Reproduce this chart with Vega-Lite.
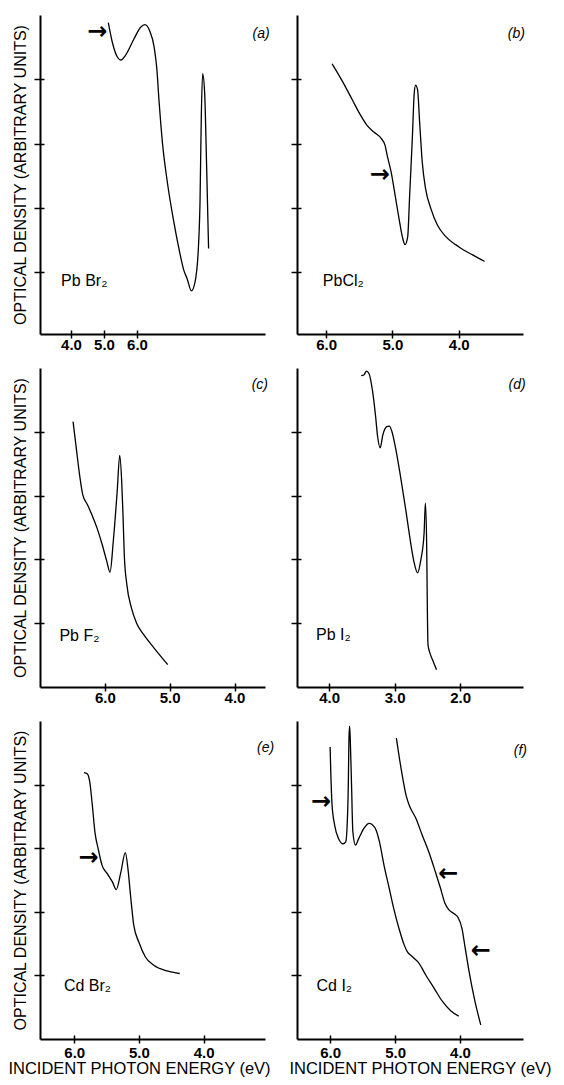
{
  "$schema": "https://vega.github.io/schema/vega-lite/v6.json",
  "background": "white",
  "padding": {"left": 7, "top": 15, "right": 5, "bottom": 5},
  "columns": 2,
  "spacing": {"row": 34, "column": 32},
  "bounds": "flush",
  "config": {
    "view": {"stroke": null},
    "axis": {"grid": false, "domainColor": "black", "tickColor": "black", "labelColor": "black", "titleColor": "black", "labelFont": "Liberation Sans", "titleFont": "Liberation Sans"},
    "text": {"font": "Liberation Sans", "color": "black"},
    "line": {"color": "black", "strokeWidth": 1.3, "interpolate": "monotone"}
  },
  "concat": [
    {
      "width": 225, "height": 319,
      "layer": [
        {
          "data": {"values": [
            {"e":5.13,"od":4.88},{"e":5.25,"od":4.58},{"e":5.40,"od":4.35},{"e":5.51,"od":4.30},{"e":5.66,"od":4.38},{"e":5.91,"od":4.63},{"e":6.11,"od":4.81},{"e":6.24,"od":4.85},{"e":6.38,"od":4.76},{"e":6.52,"od":4.50},{"e":6.60,"od":4.17},{"e":6.67,"od":3.65},{"e":6.77,"od":3.02},{"e":6.92,"od":2.40},{"e":7.10,"od":1.83},{"e":7.27,"od":1.37},{"e":7.42,"od":1.03},{"e":7.52,"od":0.90},{"e":7.65,"od":0.71},{"e":7.76,"od":0.85},{"e":7.86,"od":1.37},{"e":7.91,"od":2.09},{"e":7.95,"od":3.44},{"e":7.99,"od":4.09},{"e":8.05,"od":3.80},{"e":8.11,"od":2.66},{"e":8.17,"od":1.37}
          ]},
          "mark": {"type": "line"},
          "encoding": {
            "x": {"field": "e", "type": "quantitative", "scale": {"domain": [3.06, 9.88], "nice": false, "zero": false}, "axis": {"orient": "bottom", "values": [4, 5, 6], "format": ".1f", "ticks": false, "domainWidth": 2, "labelFontSize": 15, "labelFontWeight": "bold", "labelPadding": 3, "title": null}},
            "y": {"field": "od", "type": "quantitative", "scale": {"domain": [0.04, 5], "nice": false, "zero": false}, "axis": {"orient": "left", "ticks": false, "labels": false, "domainWidth": 2, "title": "OPTICAL DENSITY (ARBITRARY UNITS)", "titleFontSize": 16, "titleFontWeight": "normal", "titlePadding": 12}}
          }
        },
        {
          "data": {"values": [{"e": 9.76, "od": 4.70, "t": "(a)"}]},
          "mark": {"type": "text", "fontStyle": "italic", "fontSize": 14, "align": "center", "baseline": "middle"},
          "encoding": {
            "x": {"field": "e", "type": "quantitative", "scale": {"domain": [3.06, 9.88], "nice": false, "zero": false}, "axis": {"orient": "bottom", "values": [4, 5, 6], "domain": false, "labels": false, "tickSize": 8, "tickWidth": 1.5, "offset": -4, "title": null}},
            "y": {"field": "od", "type": "quantitative", "scale": {"domain": [0.04, 5], "nice": false, "zero": false}, "axis": {"orient": "left", "values": [1, 2, 3, 4], "domain": false, "labels": false, "tickSize": 10, "tickWidth": 1.5, "offset": -4, "title": null}},
            "text": {"field": "t"}
          }
        },
        {
          "data": {"values": [{"e": 3.70, "od": 0.86, "t": "Pb Br₂"}]},
          "mark": {"type": "text", "fontSize": 16, "align": "left", "baseline": "middle"},
          "encoding": {
            "x": {"field": "e", "type": "quantitative", "axis": null},
            "y": {"field": "od", "type": "quantitative", "axis": null},
            "text": {"field": "t"}
          }
        },
        {
          "data": {"values": [{"e": 4.80, "od": 4.73, "t": "→"}]},
          "mark": {"type": "text", "font": "DejaVu Sans", "fontSize": 24, "fontWeight": "bold", "align": "center", "baseline": "middle"},
          "encoding": {
            "x": {"field": "e", "type": "quantitative", "axis": null},
            "y": {"field": "od", "type": "quantitative", "axis": null},
            "text": {"field": "t"}
          }
        }
      ],
      "resolve": {"axis": {"x": "independent", "y": "independent"}}
    },
    {
      "width": 226, "height": 319,
      "layer": [
        {
          "data": {"values": [
            {"e":5.91,"od":4.24},{"e":5.75,"od":3.96},{"e":5.60,"od":3.67},{"e":5.48,"od":3.44},{"e":5.38,"od":3.28},{"e":5.28,"od":3.18},{"e":5.17,"od":3.08},{"e":5.11,"od":2.97},{"e":5.08,"od":2.82},{"e":5.02,"od":2.56},{"e":4.96,"od":2.20},{"e":4.90,"od":1.83},{"e":4.85,"od":1.55},{"e":4.81,"od":1.43},{"e":4.77,"od":1.55},{"e":4.74,"od":2.20},{"e":4.70,"od":3.08},{"e":4.67,"od":3.80},{"e":4.65,"od":3.91},{"e":4.62,"od":3.83},{"e":4.59,"od":3.34},{"e":4.55,"od":2.71},{"e":4.50,"od":2.30},{"e":4.42,"od":1.99},{"e":4.32,"od":1.73},{"e":4.19,"od":1.55},{"e":3.99,"od":1.39},{"e":3.79,"od":1.27},{"e":3.61,"od":1.17}
          ]},
          "mark": {"type": "line"},
          "encoding": {
            "x": {"field": "e", "type": "quantitative", "scale": {"domain": [3.03, 6.44], "reverse": true, "nice": false, "zero": false}, "axis": {"orient": "bottom", "values": [4, 5, 6], "format": ".1f", "ticks": false, "domainWidth": 2, "labelFontSize": 15, "labelFontWeight": "bold", "labelPadding": 3, "title": null}},
            "y": {"field": "od", "type": "quantitative", "scale": {"domain": [0.04, 5], "nice": false, "zero": false}, "axis": {"orient": "left", "ticks": false, "labels": false, "domainWidth": 2, "title": null}}
          }
        },
        {
          "data": {"values": [{"e": 3.13, "od": 4.70, "t": "(b)"}]},
          "mark": {"type": "text", "fontStyle": "italic", "fontSize": 14, "align": "center", "baseline": "middle"},
          "encoding": {
            "x": {"field": "e", "type": "quantitative", "scale": {"domain": [3.03, 6.44], "reverse": true, "nice": false, "zero": false}, "axis": {"orient": "bottom", "values": [4, 5, 6], "domain": false, "labels": false, "tickSize": 8, "tickWidth": 1.5, "offset": -4, "title": null}},
            "y": {"field": "od", "type": "quantitative", "scale": {"domain": [0.04, 5], "nice": false, "zero": false}, "axis": {"orient": "left", "values": [1, 2, 3, 4], "domain": false, "labels": false, "tickSize": 10, "tickWidth": 1.5, "offset": -4, "title": null}},
            "text": {"field": "t"}
          }
        },
        {
          "data": {"values": [{"e": 6.05, "od": 0.86, "t": "PbCl₂"}]},
          "mark": {"type": "text", "fontSize": 16, "align": "left", "baseline": "middle"},
          "encoding": {
            "x": {"field": "e", "type": "quantitative", "axis": null},
            "y": {"field": "od", "type": "quantitative", "axis": null},
            "text": {"field": "t"}
          }
        },
        {
          "data": {"values": [{"e": 5.19, "od": 2.52, "t": "→"}]},
          "mark": {"type": "text", "font": "DejaVu Sans", "fontSize": 24, "fontWeight": "bold", "align": "center", "baseline": "middle"},
          "encoding": {
            "x": {"field": "e", "type": "quantitative", "axis": null},
            "y": {"field": "od", "type": "quantitative", "axis": null},
            "text": {"field": "t"}
          }
        }
      ],
      "resolve": {"axis": {"x": "independent", "y": "independent"}}
    },
    {
      "width": 225, "height": 319,
      "layer": [
        {
          "data": {"values": [
            {"e":6.49,"od":4.16},{"e":6.44,"od":3.74},{"e":6.39,"od":3.33},{"e":6.34,"od":3.01},{"e":6.27,"od":2.86},{"e":6.20,"od":2.70},{"e":6.12,"od":2.49},{"e":6.04,"od":2.23},{"e":5.97,"od":1.97},{"e":5.92,"od":1.80},{"e":5.87,"od":2.28},{"e":5.81,"od":3.06},{"e":5.77,"od":3.63},{"e":5.74,"od":3.22},{"e":5.72,"od":2.70},{"e":5.70,"od":2.07},{"e":5.66,"od":1.60},{"e":5.59,"od":1.24},{"e":5.51,"od":1.00},{"e":5.40,"od":0.82},{"e":5.24,"od":0.61},{"e":5.03,"od":0.35}
          ]},
          "mark": {"type": "line"},
          "encoding": {
            "x": {"field": "e", "type": "quantitative", "scale": {"domain": [3.53, 7.0], "reverse": true, "nice": false, "zero": false}, "axis": {"orient": "bottom", "values": [4, 5, 6], "format": ".1f", "ticks": false, "domainWidth": 2, "labelFontSize": 15, "labelFontWeight": "bold", "labelPadding": 3, "title": null}},
            "y": {"field": "od", "type": "quantitative", "scale": {"domain": [0, 5], "nice": false, "zero": false}, "axis": {"orient": "left", "ticks": false, "labels": false, "domainWidth": 2, "title": "OPTICAL DENSITY (ARBITRARY UNITS)", "titleFontSize": 16, "titleFontWeight": "normal", "titlePadding": 12}}
          }
        },
        {
          "data": {"values": [{"e": 3.61, "od": 4.74, "t": "(c)"}]},
          "mark": {"type": "text", "fontStyle": "italic", "fontSize": 14, "align": "center", "baseline": "middle"},
          "encoding": {
            "x": {"field": "e", "type": "quantitative", "scale": {"domain": [3.53, 7.0], "reverse": true, "nice": false, "zero": false}, "axis": {"orient": "bottom", "values": [4, 5, 6], "domain": false, "labels": false, "tickSize": 8, "tickWidth": 1.5, "offset": -4, "title": null}},
            "y": {"field": "od", "type": "quantitative", "scale": {"domain": [0, 5], "nice": false, "zero": false}, "axis": {"orient": "left", "values": [1, 2, 3, 4], "domain": false, "labels": false, "tickSize": 10, "tickWidth": 1.5, "offset": -4, "title": null}},
            "text": {"field": "t"}
          }
        },
        {
          "data": {"values": [{"e": 6.70, "od": 0.80, "t": "Pb F₂"}]},
          "mark": {"type": "text", "fontSize": 16, "align": "left", "baseline": "middle"},
          "encoding": {
            "x": {"field": "e", "type": "quantitative", "axis": null},
            "y": {"field": "od", "type": "quantitative", "axis": null},
            "text": {"field": "t"}
          }
        }
      ],
      "resolve": {"axis": {"x": "independent", "y": "independent"}}
    },
    {
      "width": 226, "height": 319,
      "layer": [
        {
          "data": {"values": [
            {"e":3.51,"od":4.88},{"e":3.47,"od":4.89},{"e":3.43,"od":4.95},{"e":3.39,"od":4.91},{"e":3.34,"od":4.66},{"e":3.29,"od":4.24},{"e":3.26,"od":3.93},{"e":3.22,"od":3.75},{"e":3.18,"od":3.95},{"e":3.12,"od":4.08},{"e":3.08,"od":4.09},{"e":3.04,"od":4.00},{"e":2.99,"od":3.77},{"e":2.91,"od":3.30},{"e":2.83,"od":2.78},{"e":2.77,"od":2.36},{"e":2.71,"od":1.99},{"e":2.65,"od":1.79},{"e":2.60,"od":1.99},{"e":2.55,"od":2.41},{"e":2.53,"od":2.88},{"e":2.51,"od":2.20},{"e":2.50,"od":1.21},{"e":2.49,"od":0.66},{"e":2.46,"od":0.53},{"e":2.41,"od":0.40},{"e":2.36,"od":0.27}
          ]},
          "mark": {"type": "line"},
          "encoding": {
            "x": {"field": "e", "type": "quantitative", "scale": {"domain": [1.04, 4.49], "reverse": true, "nice": false, "zero": false}, "axis": {"orient": "bottom", "values": [2, 3, 4], "format": ".1f", "ticks": false, "domainWidth": 2, "labelFontSize": 15, "labelFontWeight": "bold", "labelPadding": 3, "title": null}},
            "y": {"field": "od", "type": "quantitative", "scale": {"domain": [0, 5], "nice": false, "zero": false}, "axis": {"orient": "left", "ticks": false, "labels": false, "domainWidth": 2, "title": null}}
          }
        },
        {
          "data": {"values": [{"e": 1.13, "od": 4.74, "t": "(d)"}]},
          "mark": {"type": "text", "fontStyle": "italic", "fontSize": 14, "align": "center", "baseline": "middle"},
          "encoding": {
            "x": {"field": "e", "type": "quantitative", "scale": {"domain": [1.04, 4.49], "reverse": true, "nice": false, "zero": false}, "axis": {"orient": "bottom", "values": [2, 3, 4], "domain": false, "labels": false, "tickSize": 8, "tickWidth": 1.5, "offset": -4, "title": null}},
            "y": {"field": "od", "type": "quantitative", "scale": {"domain": [0, 5], "nice": false, "zero": false}, "axis": {"orient": "left", "values": [1, 2, 3, 4], "domain": false, "labels": false, "tickSize": 10, "tickWidth": 1.5, "offset": -4, "title": null}},
            "text": {"field": "t"}
          }
        },
        {
          "data": {"values": [{"e": 4.20, "od": 0.82, "t": "Pb I₂"}]},
          "mark": {"type": "text", "fontSize": 16, "align": "left", "baseline": "middle"},
          "encoding": {
            "x": {"field": "e", "type": "quantitative", "axis": null},
            "y": {"field": "od", "type": "quantitative", "axis": null},
            "text": {"field": "t"}
          }
        }
      ],
      "resolve": {"axis": {"x": "independent", "y": "independent"}}
    },
    {
      "width": 225, "height": 318,
      "layer": [
        {
          "data": {"values": [
            {"e":5.85,"od":4.19},{"e":5.80,"od":4.17},{"e":5.76,"od":4.04},{"e":5.72,"od":3.67},{"e":5.68,"od":3.25},{"e":5.63,"od":2.99},{"e":5.57,"od":2.73},{"e":5.49,"od":2.60},{"e":5.41,"od":2.47},{"e":5.35,"od":2.35},{"e":5.28,"od":2.62},{"e":5.21,"od":2.93},{"e":5.17,"od":2.68},{"e":5.13,"od":2.26},{"e":5.08,"od":1.79},{"e":5.00,"od":1.52},{"e":4.90,"od":1.29},{"e":4.77,"od":1.16},{"e":4.56,"od":1.07},{"e":4.37,"od":1.03}
          ]},
          "mark": {"type": "line"},
          "encoding": {
            "x": {"field": "e", "type": "quantitative", "scale": {"domain": [3.05, 6.53], "reverse": true, "nice": false, "zero": false}, "axis": {"orient": "bottom", "values": [4, 5, 6], "format": ".1f", "ticks": false, "domainWidth": 2, "labelFontSize": 15, "labelFontWeight": "bold", "labelPadding": 6, "title": "INCIDENT PHOTON ENERGY (eV)", "titleFontSize": 16.5, "titleFontWeight": "normal", "titlePadding": 0, "titleX": 99}},
            "y": {"field": "od", "type": "quantitative", "scale": {"domain": [0, 5], "nice": false, "zero": false}, "axis": {"orient": "left", "ticks": false, "labels": false, "domainWidth": 2, "title": "OPTICAL DENSITY (ARBITRARY UNITS)", "titleFontSize": 16, "titleFontWeight": "normal", "titlePadding": 12}}
          }
        },
        {
          "data": {"values": [{"e": 3.04, "od": 4.57, "t": "(e)"}]},
          "mark": {"type": "text", "fontStyle": "italic", "fontSize": 14, "align": "center", "baseline": "middle"},
          "encoding": {
            "x": {"field": "e", "type": "quantitative", "scale": {"domain": [3.05, 6.53], "reverse": true, "nice": false, "zero": false}, "axis": {"orient": "bottom", "values": [4, 5, 6], "domain": false, "labels": false, "tickSize": 8, "tickWidth": 1.5, "offset": -4, "title": null}},
            "y": {"field": "od", "type": "quantitative", "scale": {"domain": [0, 5], "nice": false, "zero": false}, "axis": {"orient": "left", "values": [1, 2, 3, 4], "domain": false, "labels": false, "tickSize": 10, "tickWidth": 1.5, "offset": -4, "title": null}},
            "text": {"field": "t"}
          }
        },
        {
          "data": {"values": [{"e": 6.16, "od": 0.84, "t": "Cd Br₂"}]},
          "mark": {"type": "text", "fontSize": 16, "align": "left", "baseline": "middle"},
          "encoding": {
            "x": {"field": "e", "type": "quantitative", "axis": null},
            "y": {"field": "od", "type": "quantitative", "axis": null},
            "text": {"field": "t"}
          }
        },
        {
          "data": {"values": [{"e": 5.78, "od": 2.84, "t": "→"}]},
          "mark": {"type": "text", "font": "DejaVu Sans", "fontSize": 24, "fontWeight": "bold", "align": "center", "baseline": "middle"},
          "encoding": {
            "x": {"field": "e", "type": "quantitative", "axis": null},
            "y": {"field": "od", "type": "quantitative", "axis": null},
            "text": {"field": "t"}
          }
        }
      ],
      "resolve": {"axis": {"x": "independent", "y": "independent"}}
    },
    {
      "width": 226, "height": 318,
      "layer": [
        {
          "data": {"values": [
            {"s":1,"e":6.00,"od":4.59},{"s":1,"e":5.99,"od":4.20},{"s":1,"e":5.97,"od":3.68},{"s":1,"e":5.93,"od":3.36},{"s":1,"e":5.87,"od":3.15},{"s":1,"e":5.80,"od":3.07},{"s":1,"e":5.76,"od":3.10},{"s":1,"e":5.74,"od":3.31},{"s":1,"e":5.72,"od":3.99},{"s":1,"e":5.71,"od":4.72},{"s":1,"e":5.70,"od":4.92},{"s":1,"e":5.69,"od":4.72},{"s":1,"e":5.67,"od":3.99},{"s":1,"e":5.65,"od":3.26},{"s":1,"e":5.61,"od":3.05},{"s":1,"e":5.56,"od":3.15},{"s":1,"e":5.48,"od":3.31},{"s":1,"e":5.40,"od":3.39},{"s":1,"e":5.35,"od":3.37},{"s":1,"e":5.29,"od":3.28},{"s":1,"e":5.24,"od":3.10},{"s":1,"e":5.17,"od":2.73},{"s":1,"e":5.09,"od":2.37},{"s":1,"e":5.02,"od":2.05},{"s":1,"e":4.94,"od":1.74},{"s":1,"e":4.86,"od":1.48},{"s":1,"e":4.81,"od":1.37},{"s":1,"e":4.74,"od":1.30},{"s":1,"e":4.63,"od":1.19},{"s":1,"e":4.53,"od":1.01},{"s":1,"e":4.40,"od":0.80},{"s":1,"e":4.27,"od":0.59},{"s":1,"e":4.14,"od":0.44},{"s":1,"e":4.02,"od":0.36},
            {"s":2,"e":4.98,"od":4.73},{"s":2,"e":4.94,"od":4.46},{"s":2,"e":4.89,"od":4.15},{"s":2,"e":4.83,"od":3.83},{"s":2,"e":4.78,"od":3.67},{"s":2,"e":4.68,"od":3.47},{"s":2,"e":4.58,"od":3.20},{"s":2,"e":4.48,"od":2.94},{"s":2,"e":4.38,"od":2.63},{"s":2,"e":4.30,"od":2.37},{"s":2,"e":4.23,"od":2.13},{"s":2,"e":4.17,"od":2.03},{"s":2,"e":4.09,"od":1.97},{"s":2,"e":4.03,"od":1.91},{"s":2,"e":3.97,"od":1.74},{"s":2,"e":3.92,"od":1.43},{"s":2,"e":3.86,"od":1.06},{"s":2,"e":3.78,"od":0.64},{"s":2,"e":3.68,"od":0.22}
          ]},
          "mark": {"type": "line"},
          "encoding": {
            "x": {"field": "e", "type": "quantitative", "scale": {"domain": [3.03, 6.51], "reverse": true, "nice": false, "zero": false}, "axis": {"orient": "bottom", "values": [4, 5, 6], "format": ".1f", "ticks": false, "domainWidth": 2, "labelFontSize": 15, "labelFontWeight": "bold", "labelPadding": 6, "title": "INCIDENT PHOTON ENERGY (eV)", "titleFontSize": 16.5, "titleFontWeight": "normal", "titlePadding": 0, "titleX": 123}},
            "y": {"field": "od", "type": "quantitative", "scale": {"domain": [0, 5], "nice": false, "zero": false}, "axis": {"orient": "left", "ticks": false, "labels": false, "domainWidth": 2, "title": null}},
            "detail": {"field": "s", "type": "nominal"}
          }
        },
        {
          "data": {"values": [{"e": 3.07, "od": 4.53, "t": "(f)"}]},
          "mark": {"type": "text", "fontStyle": "italic", "fontSize": 14, "align": "center", "baseline": "middle"},
          "encoding": {
            "x": {"field": "e", "type": "quantitative", "scale": {"domain": [3.03, 6.51], "reverse": true, "nice": false, "zero": false}, "axis": {"orient": "bottom", "values": [4, 5, 6], "domain": false, "labels": false, "tickSize": 8, "tickWidth": 1.5, "offset": -4, "title": null}},
            "y": {"field": "od", "type": "quantitative", "scale": {"domain": [0, 5], "nice": false, "zero": false}, "axis": {"orient": "left", "values": [1, 2, 3, 4], "domain": false, "labels": false, "tickSize": 10, "tickWidth": 1.5, "offset": -4, "title": null}},
            "text": {"field": "t"}
          }
        },
        {
          "data": {"values": [{"e": 6.21, "od": 0.84, "t": "Cd I₂"}]},
          "mark": {"type": "text", "fontSize": 16, "align": "left", "baseline": "middle"},
          "encoding": {
            "x": {"field": "e", "type": "quantitative", "axis": null},
            "y": {"field": "od", "type": "quantitative", "axis": null},
            "text": {"field": "t"}
          }
        },
        {
          "data": {"values": [{"e": 6.14, "od": 3.72, "t": "→"}, {"e": 4.18, "od": 2.59, "t": "←"}, {"e": 3.68, "od": 1.38, "t": "←"}]},
          "mark": {"type": "text", "font": "DejaVu Sans", "fontSize": 24, "fontWeight": "bold", "align": "center", "baseline": "middle"},
          "encoding": {
            "x": {"field": "e", "type": "quantitative", "axis": null},
            "y": {"field": "od", "type": "quantitative", "axis": null},
            "text": {"field": "t"}
          }
        }
      ],
      "resolve": {"axis": {"x": "independent", "y": "independent"}}
    }
  ]
}
